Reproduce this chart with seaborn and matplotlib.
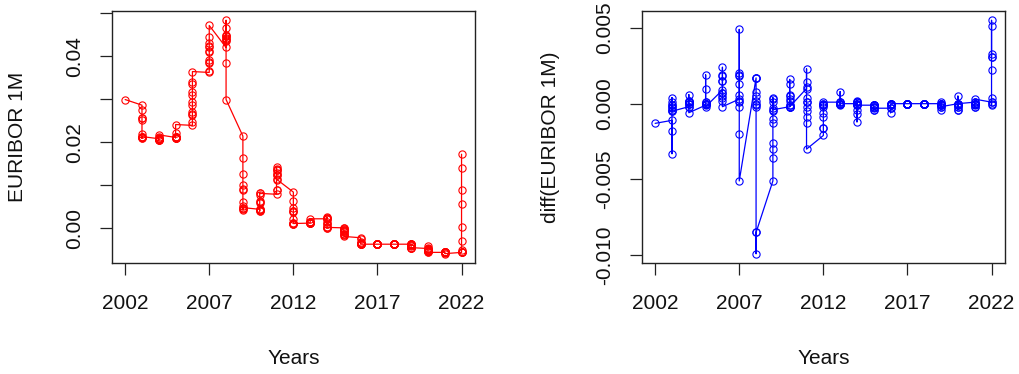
import numpy as np
import pandas as pd
import matplotlib
matplotlib.use("Agg")
import matplotlib.pyplot as plt
import seaborn as sns

# EURIBOR 1M, monthly values in percent (Dec 2002 - Dec 2022)
e2002 = [2.99]
e2003 = [2.86, 2.75, 2.57, 2.55, 2.51, 2.18, 2.13, 2.12, 2.13, 2.10, 2.09, 2.13]
e2004 = [2.08, 2.06, 2.04, 2.05, 2.06, 2.08, 2.08, 2.08, 2.08, 2.09, 2.11, 2.17]
e2005 = [2.11, 2.10, 2.10, 2.10, 2.10, 2.10, 2.11, 2.11, 2.12, 2.12, 2.22, 2.41]
e2006 = [2.39, 2.48, 2.63, 2.65, 2.69, 2.87, 2.94, 3.09, 3.16, 3.35, 3.40, 3.64]
e2007 = [3.62, 3.65, 3.84, 3.86, 3.92, 4.10, 4.11, 4.31, 4.44, 4.24, 4.22, 4.71]
e2008 = [4.20, 4.37, 4.36, 4.41, 4.39, 4.47, 4.47, 4.49, 4.66, 4.83, 3.84, 2.99]
e2009 = [2.14, 1.63, 1.27, 1.01, 0.88, 0.91, 0.61, 0.51, 0.46, 0.43, 0.44, 0.48]
e2010 = [0.44, 0.42, 0.41, 0.40, 0.42, 0.45, 0.58, 0.64, 0.62, 0.78, 0.83, 0.81]
e2011 = [0.79, 0.89, 0.90, 1.13, 1.24, 1.28, 1.42, 1.37, 1.35, 1.36, 1.23, 1.14]
e2012 = [0.84, 0.63, 0.47, 0.41, 0.39, 0.38, 0.22, 0.13, 0.12, 0.11, 0.11, 0.11]
e2013 = [0.12, 0.13, 0.13, 0.13, 0.12, 0.13, 0.14, 0.14, 0.14, 0.14, 0.14, 0.22]
e2014 = [0.22, 0.22, 0.23, 0.25, 0.26, 0.14, 0.10, 0.09, 0.02, 0.01, 0.01, 0.02]
e2015 = [0.01, 0.00, -0.01, -0.03, -0.05, -0.06, -0.07, -0.09, -0.13, -0.14, -0.15, -0.19]
e2016 = [-0.22, -0.25, -0.31, -0.34, -0.35, -0.36, -0.37, -0.37, -0.37, -0.37, -0.37, -0.37]
e2017 = [-0.37, -0.37, -0.37, -0.37, -0.37, -0.37, -0.37, -0.37, -0.37, -0.37, -0.37, -0.37]
e2018 = [-0.37, -0.37, -0.37, -0.37, -0.37, -0.37, -0.37, -0.37, -0.37, -0.37, -0.37, -0.37]
e2019 = [-0.37, -0.37, -0.37, -0.37, -0.37, -0.38, -0.40, -0.41, -0.45, -0.46, -0.45, -0.45]
e2020 = [-0.47, -0.47, -0.47, -0.42, -0.46, -0.50, -0.52, -0.52, -0.52, -0.53, -0.55, -0.56]
e2021 = [-0.56, -0.55, -0.55, -0.56, -0.56, -0.56, -0.56, -0.56, -0.56, -0.55, -0.57, -0.59]
e2022 = [-0.56, -0.55, -0.54, -0.54, -0.55, -0.51, -0.29, 0.02, 0.57, 0.90, 1.41, 1.72]

yearly = {2002: e2002, 2003: e2003, 2004: e2004, 2005: e2005, 2006: e2006,
          2007: e2007, 2008: e2008, 2009: e2009, 2010: e2010, 2011: e2011,
          2012: e2012, 2013: e2013, 2014: e2014, 2015: e2015, 2016: e2016,
          2017: e2017, 2018: e2018, 2019: e2019, 2020: e2020, 2021: e2021,
          2022: e2022}

year_ticks = [2002, 2007, 2012, 2017, 2022]
level_ticks = [0.00, 0.01, 0.02, 0.03, 0.04, 0.05]
level_labels = ["0.00", "", "0.02", "", "0.04", ""]
diff_ticks = [-0.010, -0.005, 0.000, 0.005]
diff_labels = ["-0.010", "-0.005", "0.000", "0.005"]

years = np.concatenate([[y] * len(v) for y, v in yearly.items()]).astype(float)
rate = np.concatenate(list(yearly.values())) / 100.0
level_df = pd.DataFrame({"Years": years, "rate": rate})
# month-to-month change, placed at the year of the earlier month
diff_df = pd.DataFrame({"Years": years[:-1], "drate": np.diff(rate)})

sns.set_style("white")
plt.rcParams["font.family"] = ["Liberation Sans", "DejaVu Sans"]
plt.rcParams["axes.unicode_minus"] = False

W, H = 1019, 374
fig = plt.figure(figsize=(W / 100, H / 100), dpi=100)


def px_axes(x0, y0, x1, y1):
    return fig.add_axes([x0 / W, 1 - y1 / H, (x1 - x0) / W, (y1 - y0) / H])


ax1 = px_axes(111.7, 11, 475, 263)
ax2 = px_axes(641.7, 11, 1005, 263)


def pad_limits(lo, hi):
    ext = (hi - lo) * 0.04
    return lo - ext, hi + ext


def draw(ax, df, ycol, color, yticks, ylabels, ylabel, label_x):
    sns.lineplot(data=df, x="Years", y=ycol, ax=ax, estimator=None, sort=False,
                 color=color, linewidth=0.9, marker="o", markersize=5.2,
                 markerfacecolor="none", markeredgecolor=color,
                 markeredgewidth=0.8)
    ax.set_xlim(*pad_limits(2002, 2022))
    ax.set_ylim(*pad_limits(df[ycol].min(), df[ycol].max()))
    ax.set_xticks(year_ticks)
    ax.set_xticklabels([str(y) for y in year_ticks])
    ax.set_yticks(yticks)
    ax.set_yticklabels(ylabels, rotation=90, va="center")
    ax.tick_params(axis="both", direction="out", length=8.6, width=0.9,
                   color="#222222", labelsize=15, labelcolor="#111111",
                   left=True, bottom=True)
    ax.tick_params(axis="x", pad=14)
    ax.tick_params(axis="y", pad=11)
    for s in ax.spines.values():
        s.set_visible(True)
        s.set_color("#222222")
        s.set_linewidth(1.0)
    ax.set_xlabel("Years", fontsize=15, color="#111111", va="center")
    ax.xaxis.set_label_coords(0.5, -0.38)
    ax.set_ylabel(ylabel, fontsize=15, color="#111111", va="center")
    ax.yaxis.set_label_coords(label_x, 0.5)
    ax.grid(False)


draw(ax1, level_df, "rate", "#FF0000", level_ticks, level_labels,
     "EURIBOR 1M", -0.258)
draw(ax2, diff_df, "drate", "#0000FF", diff_ticks, diff_labels,
     "diff(EURIBOR 1M)", -0.2524)

fig.savefig("out.png", dpi=100, facecolor="white")
